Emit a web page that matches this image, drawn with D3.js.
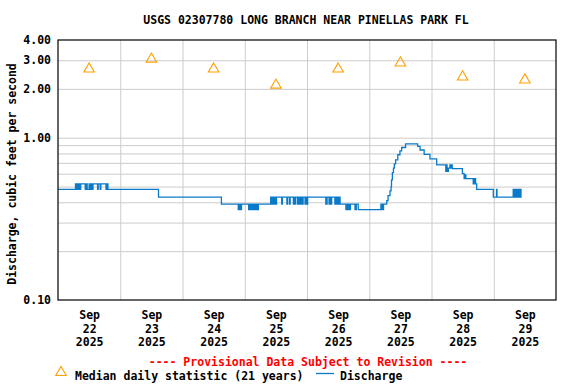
<!DOCTYPE html>
<html>
<head>
<meta charset="utf-8">
<script src="https://cdn.jsdelivr.net/npm/d3@7"></script>
<style>
  html, body { margin: 0; padding: 0; background: #fff; }
  svg text { font-family: "DejaVu Sans Mono", "Liberation Mono", monospace; font-weight: bold; }
</style>
</head>
<body>
<svg id="chart" width="576" height="384"></svg>
<script>
// ---------------- DATA ----------------
const title = "USGS 02307780 LONG BRANCH NEAR PINELLAS PARK FL";
const yLabel = "Discharge, cubic feet per second";
const provisional = "---- Provisional Data Subject to Revision ----";
const legendMedian = "Median daily statistic (21 years)";
const legendDischarge = "Discharge";

const dayLabels = ["22", "23", "24", "25", "26", "27", "28", "29"];
const monthLabel = "Sep";
const yearLabel = "2025";

const yTickValues = [0.1, 1, 2, 3, 4];
const yGridValues = [0.2, 0.3, 0.4, 0.5, 0.6, 0.7, 0.8, 0.9, 1, 2, 3];

const medianDates = ["2025-09-22 12:00", "2025-09-23 12:00", "2025-09-24 12:00", "2025-09-25 12:00",
                     "2025-09-26 12:00", "2025-09-27 12:00", "2025-09-28 12:00", "2025-09-29 12:00"];
const medianValues = [2.65, 3.05, 2.65, 2.11, 2.65, 2.89, 2.37, 2.27];

const discharge = [
  ["2025-09-22 00:00", 0.48], ["2025-09-22 06:45", 0.52], ["2025-09-22 07:15", 0.48], ["2025-09-22 07:30", 0.52],
  ["2025-09-22 07:45", 0.48], ["2025-09-22 08:00", 0.52], ["2025-09-22 08:15", 0.48], ["2025-09-22 08:45", 0.52],
  ["2025-09-22 10:30", 0.48], ["2025-09-22 11:00", 0.52], ["2025-09-22 11:15", 0.48], ["2025-09-22 12:00", 0.52],
  ["2025-09-22 12:15", 0.48], ["2025-09-22 12:45", 0.52], ["2025-09-22 13:00", 0.48], ["2025-09-22 13:30", 0.52],
  ["2025-09-22 15:15", 0.48], ["2025-09-22 15:30", 0.52], ["2025-09-22 16:15", 0.48], ["2025-09-22 16:30", 0.52],
  ["2025-09-22 18:30", 0.48], ["2025-09-22 18:45", 0.52], ["2025-09-22 19:15", 0.48],
  ["2025-09-23 14:45", 0.43],
  ["2025-09-24 15:00", 0.39],
  ["2025-09-24 21:30", 0.36], ["2025-09-24 21:45", 0.39], ["2025-09-24 22:00", 0.36], ["2025-09-24 22:15", 0.39],
  ["2025-09-24 22:30", 0.36], ["2025-09-24 22:45", 0.39],
  ["2025-09-25 01:30", 0.36], ["2025-09-25 01:45", 0.39], ["2025-09-25 02:15", 0.36], ["2025-09-25 02:30", 0.39],
  ["2025-09-25 03:00", 0.36], ["2025-09-25 03:15", 0.39], ["2025-09-25 03:45", 0.36], ["2025-09-25 04:00", 0.39],
  ["2025-09-25 04:30", 0.36], ["2025-09-25 04:45", 0.39], ["2025-09-25 05:00", 0.36], ["2025-09-25 05:15", 0.39],
  ["2025-09-25 10:00", 0.43], ["2025-09-25 10:15", 0.39], ["2025-09-25 10:30", 0.43], ["2025-09-25 10:45", 0.39],
  ["2025-09-25 11:15", 0.43], ["2025-09-25 11:30", 0.39], ["2025-09-25 11:45", 0.43], ["2025-09-25 12:00", 0.39],
  ["2025-09-25 12:15", 0.43], ["2025-09-25 14:15", 0.39], ["2025-09-25 14:30", 0.43], ["2025-09-25 16:15", 0.39],
  ["2025-09-25 16:30", 0.43], ["2025-09-25 17:15", 0.39], ["2025-09-25 17:30", 0.43], ["2025-09-25 18:45", 0.39],
  ["2025-09-25 19:00", 0.43], ["2025-09-25 19:15", 0.39], ["2025-09-25 19:30", 0.43], ["2025-09-25 20:15", 0.39],
  ["2025-09-25 20:30", 0.43], ["2025-09-25 20:45", 0.39], ["2025-09-25 21:15", 0.43], ["2025-09-25 21:30", 0.39],
  ["2025-09-25 21:45", 0.43], ["2025-09-25 22:00", 0.39], ["2025-09-25 22:30", 0.43], ["2025-09-25 23:15", 0.39],
  ["2025-09-25 23:30", 0.43], ["2025-09-26 00:00", 0.39], ["2025-09-26 00:15", 0.43],
  ["2025-09-26 07:15", 0.39], ["2025-09-26 07:45", 0.43], ["2025-09-26 08:30", 0.39], ["2025-09-26 08:45", 0.43],
  ["2025-09-26 09:15", 0.39], ["2025-09-26 09:30", 0.43], ["2025-09-26 10:45", 0.39], ["2025-09-26 11:00", 0.43],
  ["2025-09-26 11:30", 0.39], ["2025-09-26 11:45", 0.43], ["2025-09-26 12:00", 0.39], ["2025-09-26 12:15", 0.43],
  ["2025-09-26 12:45", 0.39],
  ["2025-09-26 15:00", 0.36], ["2025-09-26 15:15", 0.39], ["2025-09-26 15:45", 0.36], ["2025-09-26 16:00", 0.39],
  ["2025-09-26 16:30", 0.36], ["2025-09-26 16:45", 0.39], ["2025-09-26 18:30", 0.36], ["2025-09-26 19:00", 0.39],
  ["2025-09-26 19:45", 0.36],
  ["2025-09-27 04:30", 0.39], ["2025-09-27 04:45", 0.36], ["2025-09-27 05:00", 0.39], ["2025-09-27 05:15", 0.36],
  ["2025-09-27 05:30", 0.39], ["2025-09-27 06:45", 0.41], ["2025-09-27 07:15", 0.44], ["2025-09-27 08:00", 0.47],
  ["2025-09-27 08:25", 0.50], ["2025-09-27 08:35", 0.55], ["2025-09-27 08:55", 0.61], ["2025-09-27 09:20", 0.65],
  ["2025-09-27 09:40", 0.69], ["2025-09-27 10:10", 0.73], ["2025-09-27 11:00", 0.785], ["2025-09-27 11:50", 0.83],
  ["2025-09-27 12:30", 0.87], ["2025-09-27 14:00", 0.915], ["2025-09-27 18:40", 0.885], ["2025-09-27 19:35", 0.84],
  ["2025-09-27 21:10", 0.79], ["2025-09-27 23:25", 0.74],
  ["2025-09-28 02:00", 0.68], ["2025-09-28 05:30", 0.62], ["2025-09-28 05:45", 0.68], ["2025-09-28 06:00", 0.62],
  ["2025-09-28 06:30", 0.65], ["2025-09-28 07:05", 0.68], ["2025-09-28 07:20", 0.65], ["2025-09-28 07:40", 0.68],
  ["2025-09-28 08:00", 0.645], ["2025-09-28 11:55", 0.60], ["2025-09-28 12:35", 0.56], ["2025-09-28 13:00", 0.59],
  ["2025-09-28 13:15", 0.56], ["2025-09-28 16:05", 0.52], ["2025-09-28 16:20", 0.56], ["2025-09-28 16:35", 0.52],
  ["2025-09-28 16:50", 0.56], ["2025-09-28 17:00", 0.52], ["2025-09-28 17:25", 0.48], ["2025-09-28 23:50", 0.43],
  ["2025-09-29 01:05", 0.48], ["2025-09-29 01:15", 0.43], ["2025-09-29 07:30", 0.48], ["2025-09-29 07:45", 0.43],
  ["2025-09-29 08:00", 0.48], ["2025-09-29 08:15", 0.43], ["2025-09-29 08:45", 0.48], ["2025-09-29 09:00", 0.43],
  ["2025-09-29 09:30", 0.48], ["2025-09-29 09:45", 0.43], ["2025-09-29 10:15", 0.48], ["2025-09-29 10:30", 0.43],
  ["2025-09-29 10:45", 0.43]
];

// ---------------- CHART ----------------
const parse = d3.timeParse("%Y-%m-%d %H:%M");
const svg = d3.select("#chart");
const L = 58, R = 556, T = 40, B = 300;

const x = d3.scaleTime()
  .domain([parse("2025-09-22 00:00"), parse("2025-09-30 00:00")])
  .range([L, R]);
const y = d3.scaleLog().domain([0.1, 4]).range([B, T]);

const gridColor = "#cccccc";

// horizontal grid
svg.append("g")
  .attr("transform", `translate(${L},0)`)
  .call(d3.axisLeft(y).tickValues(yGridValues).tickSize(-(R - L)).tickFormat(""))
  .call(g => g.select(".domain").remove())
  .call(g => g.selectAll("line").attr("stroke", gridColor).attr("stroke-width", 1));

// vertical grid at midnight
const midnights = d3.timeDay.range(parse("2025-09-23 00:00"), parse("2025-09-30 00:00"));
svg.append("g")
  .attr("transform", `translate(0,${B})`)
  .call(d3.axisBottom(x).tickValues(midnights).tickSize(-(B - T)).tickFormat(""))
  .call(g => g.select(".domain").remove())
  .call(g => g.selectAll("line").attr("stroke", gridColor).attr("stroke-width", 1));

// y tick labels
svg.append("g")
  .attr("transform", `translate(${L},0)`)
  .call(d3.axisLeft(y).tickValues(yTickValues).tickSize(0).tickPadding(7).tickFormat(d3.format(".2f")))
  .call(g => g.select(".domain").remove())
  .call(g => g.selectAll("text")
    .attr("font-size", "11.5px").attr("fill", "#000")
    .attr("font-family", "DejaVu Sans Mono").attr("font-weight", "bold"));

// x tick labels at noon
const noons = dayLabels.map(d => parse(`2025-09-${d} 12:00`));
const xLab = svg.append("g")
  .attr("transform", `translate(0,${B})`)
  .call(d3.axisBottom(x).tickValues(noons).tickSize(0).tickFormat(""))
  .call(g => g.select(".domain").remove());
xLab.selectAll(".tick").each(function(d, i) {
  const t = d3.select(this).append("text")
    .attr("text-anchor", "middle").attr("fill", "#000").attr("font-size", "11.5px");
  [monthLabel, dayLabels[i], yearLabel].forEach((s, k) => {
    t.append("tspan").attr("x", 0).attr("y", 19 + k * 13.5).text(s);
  });
});

// discharge line
const dData = discharge.map(([t, v]) => ({ t: parse(t), v }));
svg.append("path")
  .datum(dData)
  .attr("fill", "none")
  .attr("stroke", "#0a7ac8")
  .attr("stroke-width", 1.3)
  .attr("d", d3.line().x(d => x(d.t)).y(d => y(d.v)).curve(d3.curveStepAfter));

// median triangles
const tri = d3.symbol().type(d3.symbolTriangle).size(48);
svg.append("g").selectAll("path")
  .data(medianDates.map((t, i) => ({ t: parse(t), v: medianValues[i] })))
  .join("path")
  .attr("transform", d => `translate(${x(d.t)},${y(d.v)})`)
  .attr("d", tri)
  .attr("fill", "none")
  .attr("stroke", "#ffa000")
  .attr("stroke-width", 1.1);

// frame
svg.append("rect")
  .attr("x", L).attr("y", T).attr("width", R - L).attr("height", B - T)
  .attr("fill", "none").attr("stroke", "#000").attr("stroke-width", 1.2);

// title
svg.append("text").attr("x", 306).attr("y", 24).attr("text-anchor", "middle")
  .attr("font-size", "11.5px").attr("fill", "#000").text(title);

// y label
svg.append("text")
  .attr("transform", "translate(16,174) rotate(-90)")
  .attr("text-anchor", "middle").attr("font-size", "11.5px").attr("fill", "#000")
  .text(yLabel);

// provisional
svg.append("text").attr("x", 308).attr("y", 365.5).attr("text-anchor", "middle")
  .attr("font-size", "11.5px").attr("fill", "#ff0000").text(provisional);

// legend
svg.append("path")
  .attr("transform", "translate(61,372.5)")
  .attr("d", tri).attr("fill", "none").attr("stroke", "#ffa000").attr("stroke-width", 1.1);
svg.append("text").attr("x", 75).attr("y", 379.5).attr("font-size", "11.5px").attr("fill", "#000")
  .text(legendMedian);
svg.append("line").attr("x1", 316).attr("x2", 334).attr("y1", 373.5).attr("y2", 373.5)
  .attr("stroke", "#0a7ac8").attr("stroke-width", 1.3);
svg.append("text").attr("x", 340).attr("y", 379.5).attr("font-size", "11.5px").attr("fill", "#000")
  .text(legendDischarge);
</script>
</body>
</html>
